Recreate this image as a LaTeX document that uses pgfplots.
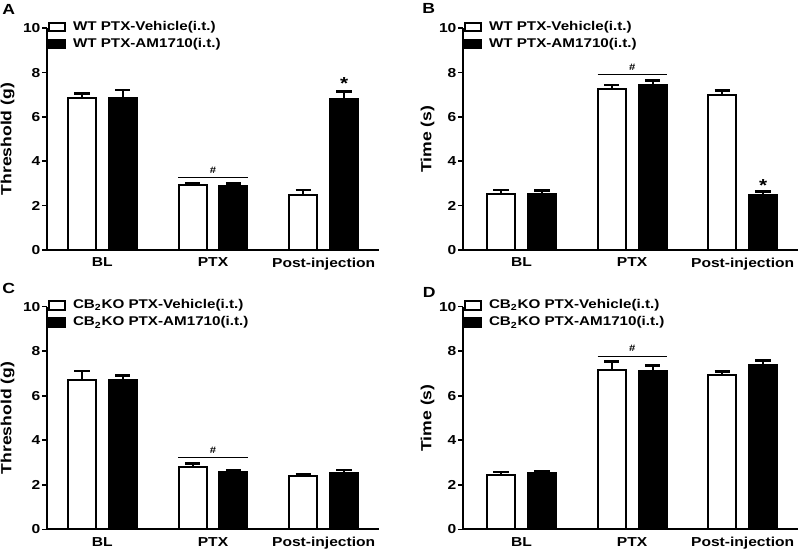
\documentclass[border=0pt]{standalone}
\usepackage{fontspec}
\setmainfont{Liberation Sans}[FakeStretch=1.2]
\usepackage{pgfplots}
\pgfplotsset{compat=1.18}
\newcommand{\legfont}{\bfseries\fontsize{9.5}{11}\selectfont}
\tikzset{
  hashlbl/.style={font=\bfseries\fontsize{7}{8}\selectfont, anchor=base},
  starlbl/.style={font=\bfseries\fontsize{13}{14}\selectfont, anchor=center},
}
\pgfplotsset{
  prism/.style={
    scale only axis, ybar, clip=false,
    axis x line=bottom, axis y line=left,
    axis line style={-, line width=1.5pt},
    ymin=0, ymax=10, ytick={0,2,4,6,8,10},
    xtick={0,1,2}, xticklabels={BL,PTX,Post-injection},
    tick align=outside, major tick length=3.75pt,
    every tick/.style={line width=1.2pt, black},
    x tick style={draw=none},
    /pgf/number format/assume math mode=true,
    tick label style={font=\bfseries\fontsize{9.75}{11}\selectfont},
    yticklabel style={inner sep=1pt},
    xticklabel style={inner sep=2pt},
    ylabel style={font=\bfseries\fontsize{11}{13}\selectfont, anchor=center},
    legend style={draw=none, fill=none, inner sep=0pt, outer sep=0pt,
      font=\legfont, row sep=1.4pt,
      nodes={inner sep=1.5pt, font=\legfont}},
    legend cell align=left,
    error bars/y dir=plus, error bars/y explicit,
    error bars/error bar style={line width=1.5pt, black},
    error bars/error mark options={rotate=90, line width=2pt, mark size=5.75pt, black},
  },
  wbar/.style={fill=white, draw=black, line width=1.5pt, bar shift=-0.185, bar width=0.253,
    legend image code/.code={\draw[fill=white, draw=black, line width=1.4pt] (0.7pt,-3.3pt) rectangle (13pt,3.3pt); \path (0pt,0pt) (16.5pt,0pt);}},
  kbar/.style={fill=black, draw=black, line width=1.5pt, bar shift=0.185, bar width=0.253,
    legend image code/.code={\draw[fill=black, draw=black, line width=1.4pt] (0.7pt,-3.3pt) rectangle (13pt,3.3pt); \path (0pt,0pt) (16.5pt,0pt);}},
}
\begin{document}
\begin{tikzpicture}
\useasboundingbox (0,0) rectangle (600pt,414pt);
\begin{scope}[font=\bfseries]
% Panel A
\begin{axis}[prism, at={(35.25pt,226.5pt)}, anchor=south west,
  width=249pt, height=166.3pt, xmin=-0.5, xmax=2.5,
  ylabel={Threshold (g)}, ylabel style={at={(axis description cs:-0.119,0.5)}},
  legend style={at={(axis description cs:0.0,1.04)}, anchor=north west}]
\addplot[wbar] coordinates {(0,6.85) +- (0,0.20) (1,2.93) +- (0,0.07) (2,2.48) +- (0,0.22)};
\addlegendentry{WT PTX-Vehicle(i.t.)}
\addplot[kbar] coordinates {(0,6.87) +- (0,0.35) (1,2.89) +- (0,0.11) (2,6.80) +- (0,0.36)};
\addlegendentry{WT PTX-AM1710(i.t.)}
\draw[line width=0.7pt] (axis cs:0.688,3.26) -- (axis cs:1.312,3.26);
\node[hashlbl] at (axis cs:1,3.45) {\#};
\node[starlbl] at (axis cs:2.185,7.5) {*};
\end{axis}
% Panel B
\begin{axis}[prism, at={(347.25pt,226.5pt)}, anchor=south west,
  width=251.2pt, height=166.3pt, xmin=-0.53, xmax=2.5,
  ylabel={Time (s)}, ylabel style={at={(axis description cs:-0.106,0.5)}},
  legend style={at={(axis description cs:0.0,1.04)}, anchor=north west}]
\addplot[wbar] coordinates {(0,2.51) +- (0,0.20) (1,7.26) +- (0,0.18) (2,7.00) +- (0,0.19)};
\addlegendentry{WT PTX-Vehicle(i.t.)}
\addplot[kbar] coordinates {(0,2.51) +- (0,0.17) (1,7.44) +- (0,0.20) (2,2.47) +- (0,0.18)};
\addlegendentry{WT PTX-AM1710(i.t.)}
\draw[line width=0.7pt] (axis cs:0.688,7.92) -- (axis cs:1.312,7.92);
\node[hashlbl] at (axis cs:1,8.11) {\#};
\node[starlbl] at (axis cs:2.185,2.92) {*};
\end{axis}
% Panel C
\begin{axis}[prism, at={(35.25pt,17pt)}, anchor=south west,
  width=249pt, height=167pt, xmin=-0.5, xmax=2.5,
  ylabel={Threshold (g)}, ylabel style={at={(axis description cs:-0.119,0.5)}},
  legend style={at={(axis description cs:0.0,1.04)}, anchor=north west}]
\addplot[wbar] coordinates {(0,6.71) +- (0,0.40) (1,2.80) +- (0,0.16) (2,2.40) +- (0,0.07)};
\addlegendentry{CB\textsubscript{2}KO PTX-Vehicle(i.t.)}
\addplot[kbar] coordinates {(0,6.69) +- (0,0.23) (1,2.59) +- (0,0.06) (2,2.54) +- (0,0.12)};
\addlegendentry{CB\textsubscript{2}KO PTX-AM1710(i.t.)}
\draw[line width=0.7pt] (axis cs:0.688,3.22) -- (axis cs:1.312,3.22);
\node[hashlbl] at (axis cs:1,3.41) {\#};
\end{axis}
% Panel D
\begin{axis}[prism, at={(347.25pt,17pt)}, anchor=south west,
  width=251.2pt, height=167pt, xmin=-0.53, xmax=2.5,
  ylabel={Time (s)}, ylabel style={at={(axis description cs:-0.106,0.5)}},
  legend style={at={(axis description cs:0.0,1.04)}, anchor=north west}]
\addplot[wbar] coordinates {(0,2.43) +- (0,0.14) (1,7.16) +- (0,0.38) (2,6.95) +- (0,0.13)};
\addlegendentry{CB\textsubscript{2}KO PTX-Vehicle(i.t.)}
\addplot[kbar] coordinates {(0,2.51) +- (0,0.11) (1,7.13) +- (0,0.24) (2,7.37) +- (0,0.22)};
\addlegendentry{CB\textsubscript{2}KO PTX-AM1710(i.t.)}
\draw[line width=0.7pt] (axis cs:0.688,7.78) -- (axis cs:1.312,7.78);
\node[hashlbl] at (axis cs:1,7.97) {\#};
\end{axis}
\node[font=\bfseries\fontsize{11}{13}\selectfont, anchor=base west, inner sep=0pt] at (1.5pt,403pt) {A};
\node[font=\bfseries\fontsize{11}{13}\selectfont, anchor=base west, inner sep=0pt] at (316.5pt,403.5pt) {B};
\node[font=\bfseries\fontsize{11}{13}\selectfont, anchor=base west, inner sep=0pt] at (1.5pt,194pt) {C};
\node[font=\bfseries\fontsize{11}{13}\selectfont, anchor=base west, inner sep=0pt] at (317pt,191pt) {D};
\end{scope}
\end{tikzpicture}
\end{document}
